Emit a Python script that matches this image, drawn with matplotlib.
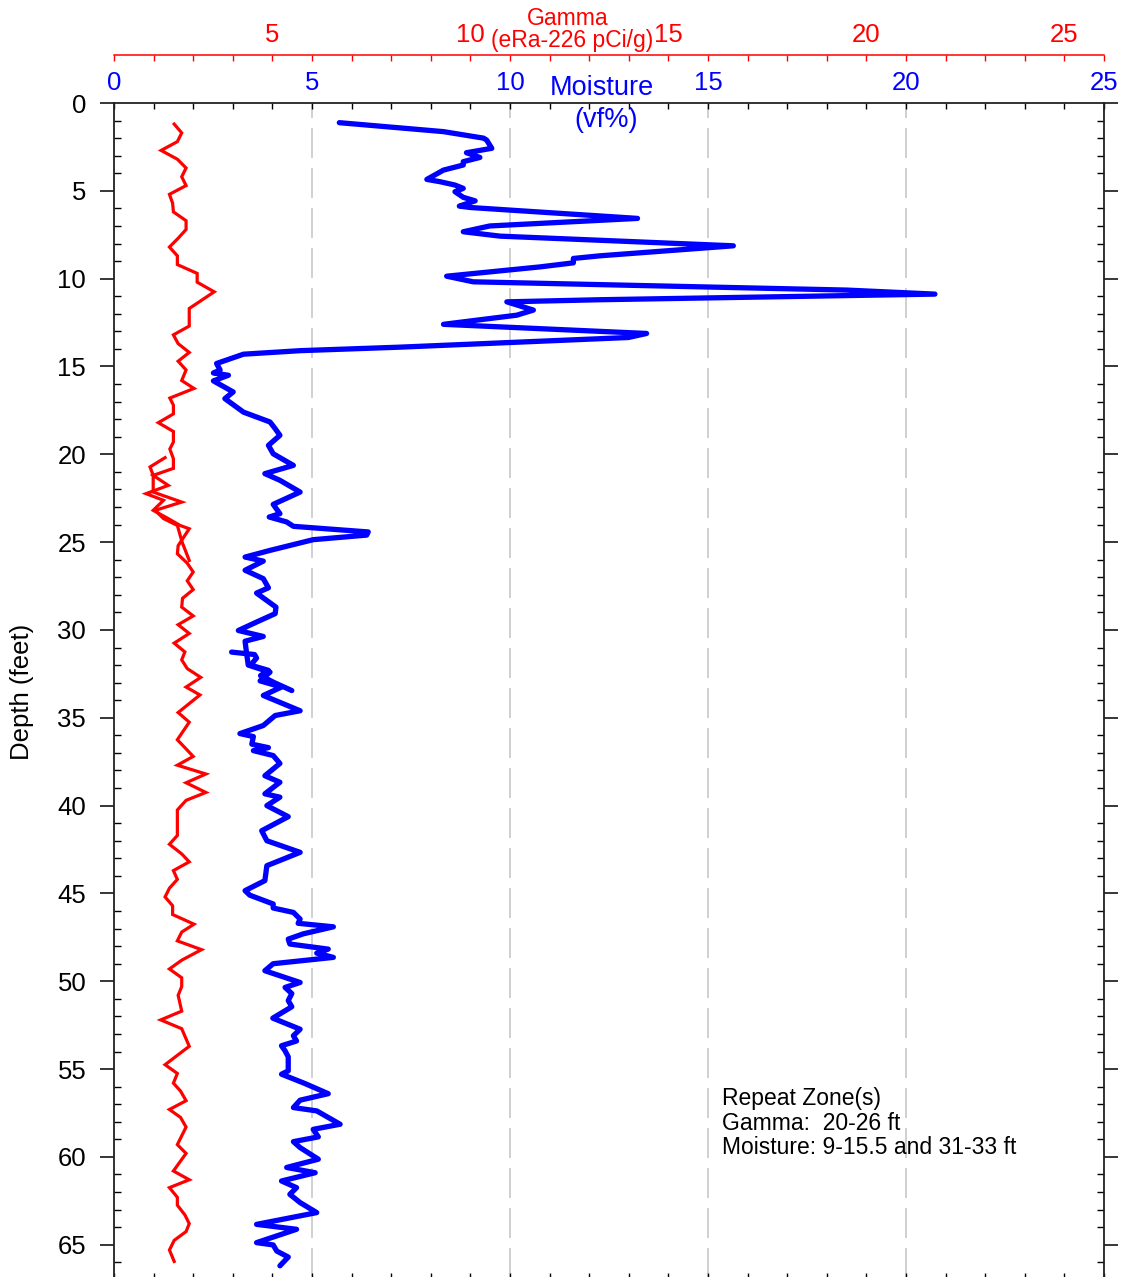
import numpy as np
import matplotlib
matplotlib.use('Agg')
import matplotlib.pyplot as plt
from matplotlib.ticker import MultipleLocator

plt.rcParams['font.family'] = ['Liberation Sans', 'DejaVu Sans']

gamma_depth = [1.2, 1.7, 2.2, 2.7, 3.2, 3.7, 4.2, 4.7, 5.2, 5.7, 6.2, 6.7, 7.2, 7.7, 8.2, 8.7,
               9.2, 9.7, 10.2, 10.75, 11.7, 12.7, 13.2, 13.7, 14.2, 14.7, 15.2, 15.8, 16.25,
               16.8, 17.2, 17.7, 18.2, 18.7, 19.3, 19.7, 20.25, 20.8, 21.2, 21.77, 22.24,
               22.62, 23.19, 23.66, 24.05, 24.24, 25.2, 25.66, 26.2, 26.7, 27.2, 27.7, 28.2,
               28.7, 29.2, 29.7, 30.2, 30.75, 31.25, 31.7, 32.2, 32.7, 33.25, 33.7, 34.7,
               35.25, 36.25, 37.2, 37.7, 38.2, 38.7, 39.25, 39.7, 40.25, 41.7, 42.2, 42.75,
               43.2, 43.7, 44.2, 44.7, 45.2, 45.7, 46.2, 46.75, 47.2, 47.7, 48.2, 48.8, 49.3,
               49.8, 50.3, 50.8, 51.7, 52.2, 52.7, 53.7, 54.75, 55.25, 55.8, 56.25, 56.8,
               57.3, 57.75, 58.3, 59.3, 59.8, 60.8, 61.3, 61.75, 62.3, 62.75, 63.3, 63.8,
               64.25, 64.75, 65.3, 65.95]
gamma_val = [2.52, 2.71, 2.60, 2.19, 2.60, 2.82, 2.71, 2.82, 2.40, 2.48, 2.50, 2.82, 2.82,
             2.62, 2.40, 2.60, 2.60, 3.10, 3.10, 3.53, 2.90, 2.90, 2.50, 2.62, 2.90, 2.62,
             2.82, 2.71, 3.02, 2.41, 2.50, 2.50, 2.12, 2.50, 2.50, 2.41, 2.50, 2.50, 1.99,
             2.37, 1.81, 2.25, 1.99, 2.37, 2.67, 2.90, 2.62, 2.60, 2.85, 3.00, 2.85, 3.00,
             2.73, 2.71, 3.00, 2.62, 2.90, 2.52, 2.79, 2.71, 2.85, 3.19, 2.82, 3.17, 2.62,
             2.90, 2.60, 3.00, 2.60, 3.32, 2.82, 3.32, 2.82, 2.60, 2.60, 2.40, 2.71, 2.90,
             2.50, 2.60, 2.40, 2.29, 2.48, 2.48, 3.02, 2.71, 2.60, 3.21, 2.71, 2.40, 2.71,
             2.71, 2.62, 2.71, 2.18, 2.71, 2.90, 2.29, 2.60, 2.50, 2.68, 2.82, 2.40, 2.68,
             2.82, 2.60, 2.82, 2.50, 2.90, 2.40, 2.60, 2.60, 2.79, 2.90, 2.82, 2.52, 2.40,
             2.52]

# gamma repeat run, 20-26 ft
gamma_rep_depth = [20.19, 20.72, 21.2, 22.15, 22.72, 23.19, 23.66, 24.05, 25.0, 26.04]
gamma_rep_val = [2.29, 1.91, 1.99, 1.99, 2.71, 2.04, 2.25, 2.60, 2.72, 2.90]

moist_depth = [1.12, 1.63, 2.0, 2.11, 2.58, 2.83, 3.1, 3.34, 3.53, 3.82, 4.35, 4.48, 4.67,
               4.86, 5.05, 5.37, 5.57, 5.87, 5.95, 6.57, 7.0, 7.33, 7.58, 8.13, 8.7, 8.85,
               9.1, 9.33, 9.86, 10.18, 10.65, 10.88, 11.2, 11.32, 11.79, 12.08, 12.6, 13.12,
               13.35, 13.9, 14.1, 14.3, 14.83, 15.2, 15.37, 15.5, 15.82, 16.45, 16.83, 17.6,
               18.16, 18.54, 18.92, 19.49, 19.97, 20.63, 21.1, 21.48, 22.15, 22.85, 23.38,
               23.57, 23.85, 24.1, 24.42, 24.6, 24.86, 25.47, 25.85, 26.08, 26.6, 27.08,
               27.6, 27.9, 28.7, 29.07, 29.55, 30.03, 30.37, 30.64, 31.36, 32.0, 32.4, 32.9,
               33.25, 33.73, 34.6, 34.87, 35.44, 35.9, 36.07, 36.5, 36.7, 36.87, 37.15, 37.6,
               38.3, 38.67, 39.33, 39.52, 40.0, 40.63, 41.43, 42.0, 42.66, 43.42, 44.27,
               44.84, 45.1, 45.6, 45.83, 46.08, 46.46, 46.7, 46.9, 47.3, 47.6, 47.88, 48.17,
               48.4, 48.64, 49.0, 49.4, 50.07, 50.35, 50.7, 51.1, 51.45, 52.1, 52.73, 53.1,
               53.4, 53.67, 53.96, 54.3, 55.1, 55.29, 55.82, 56.4, 56.77, 57.19, 57.38,
               58.14, 58.43, 58.86, 59.13, 59.47, 60.13, 60.6, 60.9, 61.37, 61.75, 62.13,
               62.6, 63.17, 63.84, 64.12, 64.88, 65.01, 65.36, 65.7, 66.2]
moist_val = [5.69, 8.32, 9.33, 9.41, 9.54, 8.90, 9.24, 8.82, 8.82, 8.32, 7.90, 8.23, 8.61,
             8.82, 8.61, 8.82, 9.12, 8.72, 9.00, 13.22, 9.49, 8.82, 9.75, 15.64, 12.27, 11.60,
             11.60, 10.76, 8.40, 9.07, 18.50, 20.73, 12.27, 9.92, 10.59, 10.17, 8.32, 13.45,
             12.99, 7.22, 4.70, 3.27, 2.59, 2.68, 2.51, 2.89, 2.51, 3.01, 2.80, 3.27, 3.94,
             4.07, 4.19, 3.90, 4.02, 4.53, 3.81, 4.19, 4.70, 4.02, 4.19, 3.92, 4.36, 4.53,
             6.42, 6.38, 5.03, 3.94, 3.31, 3.77, 3.31, 3.77, 3.90, 3.60, 4.09, 4.07, 3.60,
             3.14, 3.77, 3.31, 3.35, 3.39, 3.94, 3.69, 4.23, 3.77, 4.70, 4.07, 3.77, 3.18,
             3.52, 3.48, 3.90, 3.52, 4.02, 4.19, 3.81, 4.19, 3.81, 4.19, 3.86, 4.40, 3.73,
             3.86, 4.70, 3.86, 3.81, 3.31, 3.43, 4.02, 4.02, 4.53, 4.70, 4.65, 5.54, 4.78,
             4.40, 4.44, 5.41, 5.12, 5.54, 4.02, 3.81, 4.70, 4.32, 4.49, 4.40, 4.49, 4.01,
             4.70, 4.53, 4.61, 4.23, 4.32, 4.40, 4.40, 4.23, 4.82, 5.41, 4.70, 4.53, 5.12,
             5.71, 5.03, 5.16, 4.53, 4.70, 5.16, 4.36, 5.08, 4.23, 4.61, 4.44, 4.70, 5.12,
             3.60, 4.61, 3.60, 4.02, 4.11, 4.40, 4.19]

# moisture repeat run, 31-33 ft
moist_rep_depth = [31.26, 31.4, 31.6, 32.0, 32.3, 32.6, 33.0, 33.45]
moist_rep_val = [2.97, 3.55, 3.60, 3.45, 3.90, 3.70, 4.05, 4.49]

note_lines = ['Repeat Zone(s)', 'Gamma:  20-26 ft', 'Moisture: 9-15.5 and 31-33 ft']

W, H = 1125, 1277

def fx(px):
    return px / W

def fy(py):
    return 1 - py / H

##### FIGURE
fig = plt.figure(figsize=(W / 100, H / 100), dpi=100)
ax = fig.add_axes([fx(114), fy(1279), (1104 - 114) / W, (1279 - 103) / H])
ax2 = ax.twiny()   # gamma axis; made first since twiny resets ax's top ticks

ax.set_xlim(0, 25)
ax.set_ylim(66.95, 0)

ax.xaxis.set_major_locator(MultipleLocator(5))
ax.xaxis.set_minor_locator(MultipleLocator(1))
ax.yaxis.set_major_locator(MultipleLocator(5))
ax.yaxis.set_minor_locator(MultipleLocator(1))
ax.tick_params(axis='x', which='both', direction='in', top=True, bottom=True,
               labeltop=True, labelbottom=False, length=4.5, width=1, color='black',
               labelcolor='#0000ff', labelsize=18.5, pad=6)
ax.tick_params(axis='y', which='major', direction='out', left=True, right=True,
               length=10, width=1.1, labelsize=18.5, pad=10)
ax.tick_params(axis='y', which='minor', direction='in', left=True, right=True,
               length=5, width=1)
for s in ax.spines.values():
    s.set_linewidth(1.3)
    s.set_color('#222222')

ax.grid(axis='x', which='major', color='#c8c8c8', linewidth=1.2, linestyle=(0, (18, 6)))
ax.set_axisbelow(True)

ax.plot(moist_val, moist_depth, color='#0000ff', lw=3.8,
        solid_capstyle='round', solid_joinstyle='round', zorder=3)
ax.plot(moist_rep_val, moist_rep_depth, color='#0000ff', lw=3.8,
        solid_capstyle='round', solid_joinstyle='round', zorder=3)

##### GAMMA AXIS (offset above)
ax2.set_xlim(1, 26)
ax2.spines['top'].set_position(('outward', 34.6))
ax2.spines['top'].set_color('#ff0000')
ax2.spines['top'].set_linewidth(1.1)
for k in ['bottom', 'left', 'right']:
    ax2.spines[k].set_visible(False)
ax2.xaxis.set_major_locator(MultipleLocator(5))
ax2.xaxis.set_minor_locator(MultipleLocator(1))
ax2.tick_params(axis='x', which='both', direction='in', length=4.5, width=1,
                color='#ff0000', labelcolor='#ff0000', labelsize=18.5, pad=6)

ax2.plot(gamma_val, gamma_depth, color='#ff0000', lw=2.3, solid_joinstyle='miter', zorder=3)
ax2.plot(gamma_rep_val, gamma_rep_depth, color='#ff0000', lw=2.3, solid_joinstyle='miter', zorder=3)

##### LABELS
fig.text(fx(568), fy(25), 'Gamma', color='#ff0000', fontsize=16.5, ha='center', va='baseline')
fig.text(fx(572.5), fy(47), '(eRa-226 pCi/g)', color='#ff0000', fontsize=16.5,
         ha='center', va='baseline')
fig.text(fx(601.7), fy(95), 'Moisture', color='#0000ff', fontsize=19.5, ha='center', va='baseline')
fig.text(fx(605.8), fy(127), '(vf%)', color='#0000ff', fontsize=19.5, ha='center', va='baseline')
fig.text(fx(21.5), fy(692), 'Depth (feet)', fontsize=18.5, rotation=90, ha='center', va='center')

for i, line in enumerate(note_lines):
    fig.text(fx(721.5), fy(1105 + 24.5 * i), line, fontsize=16.5, ha='left', va='baseline')

fig.savefig('out.png', dpi=100)
